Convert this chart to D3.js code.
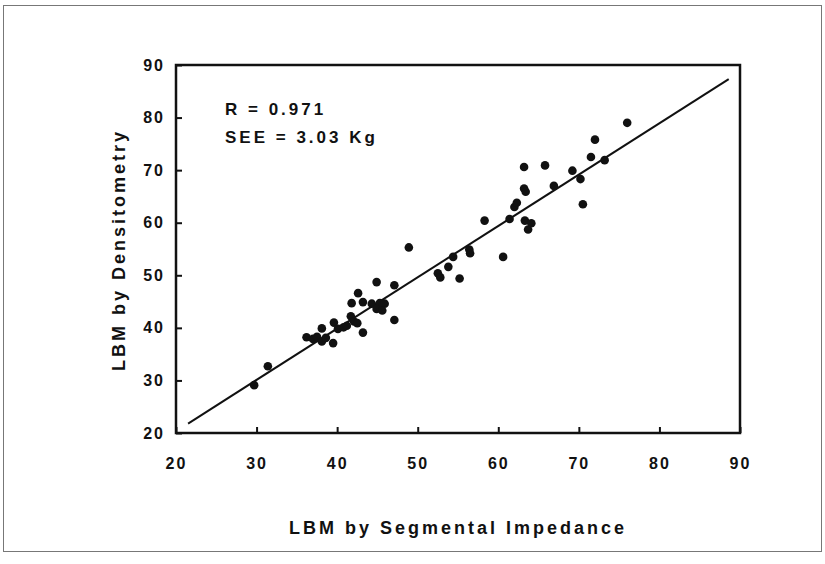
<!DOCTYPE html>
<html>
<head>
<meta charset="utf-8">
<script src="https://cdn.jsdelivr.net/npm/d3@7"></script>
<style>
  body { margin: 0; background: #fff; }
  text { font-family: "Liberation Sans", Arial, sans-serif; font-weight: bold; fill: #111; }
</style>
</head>
<body>
<svg id="chart" width="825" height="564"></svg>
<script>
// LBM by segmental impedance (x) vs LBM by densitometry (y)
var impedance = [29.7, 31.4, 36.2, 37.0, 37.5, 38.1, 38.1, 38.6, 39.5, 39.6,
  40.1, 40.8, 41.2, 41.7, 41.8, 42.1, 42.5, 42.6, 43.2, 43.2, 44.3, 45.3,
  45.9, 44.9, 45.6, 44.9, 47.1, 47.1, 48.9, 52.5, 52.8, 53.8, 54.4, 55.2,
  56.4, 56.5, 58.3, 60.6, 61.4, 62.0, 62.3, 63.3, 63.7, 64.1, 63.2, 63.4,
  63.2, 65.8, 66.9, 69.2, 70.2, 70.5, 71.5, 72.0, 73.2, 76.0];
var densitometry = [29.1, 32.7, 38.2, 37.9, 38.3, 39.9, 37.4, 38.1, 37.1, 41.0,
  39.8, 40.1, 40.4, 42.2, 44.7, 41.2, 40.9, 46.6, 39.1, 44.9, 44.6, 44.7,
  44.6, 43.6, 43.3, 48.7, 48.1, 41.5, 55.3, 50.4, 49.6, 51.6, 53.5, 49.4,
  54.9, 54.2, 60.4, 53.5, 60.7, 63.0, 63.8, 60.4, 58.7, 59.9, 66.5, 65.9,
  70.6, 70.9, 67.0, 69.9, 68.3, 63.5, 72.5, 75.8, 71.9, 79.0];
var fitLine = [[21.5, 21.8], [88.6, 87.3]];
var tickValues = [20, 30, 40, 50, 60, 70, 80, 90];
var statLines = ["R = 0.971", "SEE = 3.03 Kg"];

var svg = d3.select('#chart');

// scanned page frame
svg.append('rect')
  .attr('x', 3.5).attr('y', 5.5)
  .attr('width', 818).attr('height', 546)
  .attr('fill', 'none')
  .attr('stroke', '#777')
  .attr('stroke-width', 1);

var x = d3.scaleLinear().domain([20, 90]).range([176, 740]);
var y = d3.scaleLinear().domain([20, 90]).range([433, 65]);

svg.append('g')
  .attr('transform', 'translate(0,433)')
  .call(d3.axisBottom(x).tickValues(tickValues).tickSizeInner(-6).tickSizeOuter(0).tickPadding(25))
  .call(function(g) { g.select('.domain').remove(); })
  .call(function(g) {
    g.selectAll('line').attr('stroke', '#111').attr('stroke-width', 2);
    g.selectAll('text').attr('font-size', 16).attr('letter-spacing', 2).attr('fill', '#111');
  });

svg.append('g')
  .attr('transform', 'translate(176,0)')
  .call(d3.axisLeft(y).tickValues(tickValues).tickSizeInner(-6).tickSizeOuter(0).tickPadding(11))
  .call(function(g) { g.select('.domain').remove(); })
  .call(function(g) {
    g.selectAll('line').attr('stroke', '#111').attr('stroke-width', 2);
    g.selectAll('text').attr('font-size', 16).attr('letter-spacing', 2).attr('fill', '#111');
  });

// plot box
svg.append('rect')
  .attr('x', x(20)).attr('y', y(90))
  .attr('width', x(90) - x(20)).attr('height', y(20) - y(90))
  .attr('fill', 'none')
  .attr('stroke', '#111')
  .attr('stroke-width', 2.5);

// regression line
svg.append('line')
  .attr('x1', x(fitLine[0][0])).attr('y1', y(fitLine[0][1]))
  .attr('x2', x(fitLine[1][0])).attr('y2', y(fitLine[1][1]))
  .attr('stroke', '#111')
  .attr('stroke-width', 2);

svg.append('g').selectAll('circle')
  .data(impedance)
  .enter().append('circle')
  .attr('cx', function(d) { return x(d); })
  .attr('cy', function(d, i) { return y(densitometry[i]); })
  .attr('r', 4.3)
  .attr('fill', '#111');

svg.selectAll('.stat')
  .data(statLines)
  .enter().append('text')
  .attr('class', 'stat')
  .attr('x', 225)
  .attr('y', function(d, i) { return 115 + i * 28; })
  .attr('font-size', 17)
  .attr('letter-spacing', 3)
  .text(function(d) { return d; });

svg.append('text')
  .attr('x', 458)
  .attr('y', 534)
  .attr('text-anchor', 'middle')
  .attr('font-size', 18)
  .attr('letter-spacing', 3)
  .text('LBM by Segmental Impedance');

svg.append('text')
  .attr('transform', 'translate(125,250) rotate(-90)')
  .attr('text-anchor', 'middle')
  .attr('font-size', 18)
  .attr('letter-spacing', 3)
  .text('LBM by Densitometry');
</script>
</body>
</html>
